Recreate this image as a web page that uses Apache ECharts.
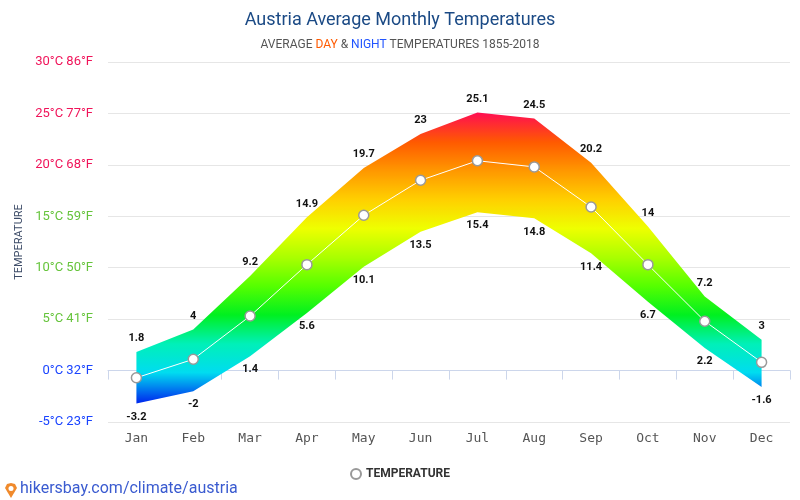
<!DOCTYPE html>
<html>
<head>
<meta charset="utf-8">
<script src="https://cdn.jsdelivr.net/npm/echarts@6/dist/echarts.min.js"></script>
<style>
  html, body { margin: 0; padding: 0; background: #fff; }
  #chart { width: 800px; height: 500px; }
</style>
</head>
<body>
<div id="chart"></div>
<script>
// data
var months = ['Jan', 'Feb', 'Mar', 'Apr', 'May', 'Jun', 'Jul', 'Aug', 'Sep', 'Oct', 'Nov', 'Dec'];
var dayTemps = [1.8, 4, 9.2, 14.9, 19.7, 23, 25.1, 24.5, 20.2, 14, 7.2, 3];
var nightTemps = [-3.2, -2, 1.4, 5.6, 10.1, 13.5, 15.4, 14.8, 11.4, 6.7, 2.2, -1.6];
var avgTemps = [-0.7, 1.1, 5.3, 10.3, 15.1, 18.5, 20.4, 19.8, 15.9, 10.3, 4.8, 0.8];
var yTicks = [-5, 0, 5, 10, 15, 20, 25, 30];

// band height stacked on the night temps
var bandSpan = dayTemps.map(function (v, i) { return +(v - nightTemps[i]).toFixed(1); });

var bandColors = ['#0030ee', '#00dcf0', '#00f0b8', '#00f020', '#55ff00', '#aaff00',
                  '#eeff00', '#ffd000', '#ff9800', '#ff5a00', '#ff1050'];

function labelColor(v) {
  v = Number(v);
  if (v >= 20) return '#f0145a';
  if (v >= 5) return '#66c43c';
  return '#1a44ff';
}

var chart = echarts.init(document.getElementById('chart'));

var option = {
  animation: false,
  title: {
    text: 'Austria Average Monthly Temperatures',
    subtext: '{g|AVERAGE }{d|DAY}{g| & }{n|NIGHT}{g| TEMPERATURES 1855-2018}',
    left: 'center',
    top: 6,
    itemGap: 10,
    textStyle: { fontFamily: 'Roboto', fontSize: 18, fontWeight: 'normal', color: '#1b4a85' },
    subtextStyle: {
      fontFamily: 'Roboto',
      rich: {
        g: { fontSize: 12, color: '#555555', fontFamily: 'Roboto' },
        d: { fontSize: 12, color: '#ff5a00', fontFamily: 'Roboto' },
        n: { fontSize: 12, color: '#2255ff', fontFamily: 'Roboto' }
      }
    }
  },
  grid: { left: 108, right: 10, top: 62, bottom: 78 },
  legend: {
    bottom: 15,
    left: 'center',
    data: ['TEMPERATURE'],
    icon: 'circle',
    itemWidth: 10,
    itemHeight: 10,
    textStyle: { fontFamily: 'Roboto', fontSize: 12, fontWeight: 'bold', color: '#333' }
  },
  visualMap: {
    show: false,
    type: 'continuous',
    seriesIndex: 1,
    dimension: 1,
    min: -3,
    max: 25,
    inRange: { color: bandColors }
  },
  xAxis: {
    type: 'category',
    data: months,
    boundaryGap: true,
    axisLine: { lineStyle: { color: '#ccd6eb' } },
    axisTick: { show: true, length: 9, lineStyle: { color: '#ccd6eb' } },
    axisLabel: { fontFamily: 'DejaVu Sans Mono', fontSize: 13, color: '#555', margin: 10 }
  },
  yAxis: {
    type: 'value',
    min: -5,
    max: 30,
    interval: 5,
    name: 'TEMPERATURE',
    nameLocation: 'middle',
    nameGap: 82,
    nameTextStyle: { fontFamily: 'Roboto', fontSize: 11, color: '#3b4a66' },
    axisLine: { show: false },
    axisTick: { show: false },
    splitLine: { lineStyle: { color: '#e6e6e6' } },
    axisLabel: {
      fontFamily: 'Roboto',
      fontSize: 13,
      margin: 15,
      color: labelColor,
      formatter: function (v) {
        return v + '°C ' + Math.round(v * 9 / 5 + 32) + '°F';
      }
    }
  },
  series: [
    {
      name: 'night',
      type: 'line',
      stack: 'band',
      stackStrategy: 'all',
      data: nightTemps,
      symbol: 'circle',
      symbolSize: 0,
      lineStyle: { width: 0 },
      label: {
        show: true,
        position: 'bottom',
        distance: 8,
        fontFamily: 'Roboto',
        fontSize: 11,
        fontWeight: 'bold',
        color: '#111'
      },
      z: 2
    },
    {
      name: 'day',
      type: 'line',
      stack: 'band',
      stackStrategy: 'all',
      data: bandSpan,
      symbol: 'circle',
      symbolSize: 0,
      lineStyle: { width: 0 },
      areaStyle: { opacity: 1 },
      label: {
        show: true,
        position: 'top',
        distance: 8,
        fontFamily: 'Roboto',
        fontSize: 11,
        fontWeight: 'bold',
        color: '#111',
        formatter: function (p) { return dayTemps[p.dataIndex]; }
      },
      z: 2
    },
    {
      name: 'TEMPERATURE',
      type: 'line',
      data: avgTemps,
      symbol: 'circle',
      symbolSize: 10,
      lineStyle: { color: '#ffffff', width: 1 },
      itemStyle: { color: '#ffffff', borderColor: '#999999', borderWidth: 1.5 },
      z: 5
    }
  ],
  graphic: [
    {
      type: 'polygon',
      left: 5,
      top: 483,
      shape: { points: [[0, 5], [2, 1], [6, 0], [10, 1], [12, 5], [6, 15]] },
      style: { fill: '#f08a2c' }
    },
    {
      type: 'circle',
      left: 8.5,
      top: 486,
      shape: { r: 2.5 },
      style: { fill: '#ffffff' }
    },
    {
      type: 'text',
      left: 20,
      top: 481,
      style: {
        text: 'hikersbay.com/climate/austria',
        fontFamily: 'Roboto',
        fontSize: 16,
        fill: '#3a5bd0'
      }
    }
  ]
};

chart.setOption(option);
</script>
</body>
</html>
